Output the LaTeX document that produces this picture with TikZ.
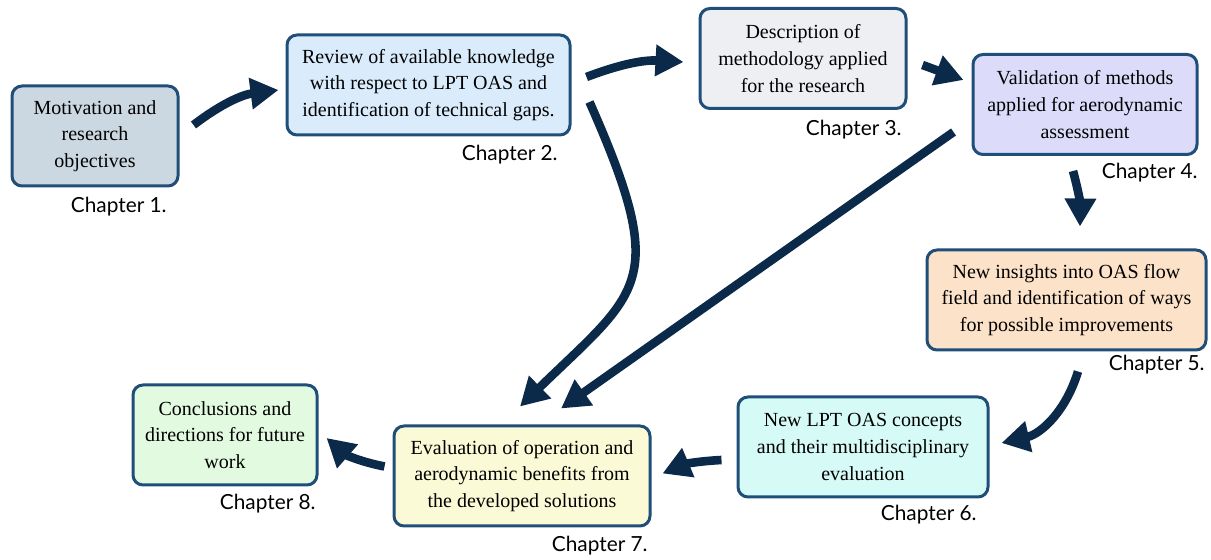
\documentclass[tikz,border=0pt]{standalone}
\usepackage{fontspec}
\setmainfont{Liberation Serif}
\newfontfamily\labelfont{Lato}
\usetikzlibrary{arrows.meta}

\definecolor{edgeblue}{RGB}{31,78,121}
\definecolor{arrowblue}{RGB}{11,42,74}
\definecolor{fillone}{RGB}{204,216,225}
\definecolor{filltwo}{RGB}{218,236,252}
\definecolor{fillthree}{RGB}{237,239,242}
\definecolor{fillfour}{RGB}{220,220,250}
\definecolor{fillfive}{RGB}{252,226,200}
\definecolor{fillsix}{RGB}{214,250,246}
\definecolor{fillseven}{RGB}{250,250,214}
\definecolor{filleight}{RGB}{226,250,224}

\tikzset{
    chapbox/.style={draw=edgeblue, line width=1.5pt, rounded corners=5pt, align=center,
        inner sep=2pt, minimum height=50pt, font=\fontsize{10}{13.3}\selectfont},
    chaplabel/.style={anchor=east, inner sep=0pt, font=\labelfont\fontsize{10.4}{12}\selectfont},
    flowarrow/.style={-{Triangle[length=14pt, width=15pt]}, line width=4.3pt, draw=arrowblue}
}

\begin{document}
\begin{tikzpicture}
        [x=0.5pt, y=-0.5pt]

        \useasboundingbox (0,0) rectangle (1211,560);

        \node[chapbox, fill=fillone, minimum width=83pt] (ch-1) at (95,136)
            {Motivation and\\research\\objectives};
        \node[chapbox, fill=filltwo, minimum width=141.5pt] (ch-2) at (428.5,85)
            {Review of available knowledge\\with respect to LPT OAS and\\identification of technical gaps.};
        \node[chapbox, fill=fillthree, minimum width=103pt] (ch-3) at (803,58.5)
            {Description of\\methodology applied\\for the research};
        \node[chapbox, fill=fillfour, minimum width=112pt] (ch-4) at (1085,104.5)
            {Validation of methods\\applied for aerodynamic\\assessment};
        \node[chapbox, fill=fillfive, minimum width=139.5pt] (ch-5) at (1066.5,300)
            {New insights into OAS flow\\field and identification of ways\\for possible improvements};
        \node[chapbox, fill=fillsix, minimum width=125pt] (ch-6) at (863,447)
            {New LPT OAS concepts\\and their multidisciplinary\\evaluation};
        \node[chapbox, fill=fillseven, minimum width=128pt] (ch-7) at (522,476)
            {Evaluation of operation and\\aerodynamic benefits from\\the developed solutions};
        \node[chapbox, fill=filleight, minimum width=92pt] (ch-8) at (225,435)
            {Conclusions and\\directions for future\\work};

        \foreach \n/\x/\y in {1/167/207, 2/558/155, 3/902/130, 4/1198/173,
                              5/1205/365, 6/977/515, 7/648/546, 8/316/504}
        \node[chaplabel] (lab-\n) at (\x,\y) {Chapter \n.};

        % reading order
        \draw[flowarrow] ([shift={(14,-11)}]ch-1.east) to[bend left=15] ([shift={(-7,5)}]ch-2.west);
        \draw[flowarrow] ([shift={(15,-8)}]ch-2.east) to[bend left=12] ([shift={(-15,3.5)}]ch-3.west);
        \draw[flowarrow] ([shift={(15,6.5)}]ch-3.east) -- ([shift={(-8,-24.5)}]ch-4.west);
        \draw[flowarrow] ([shift={(18,17)}]ch-2.east) .. controls (670,284) and (640,290) .. ([shift={(-2,-18)}]ch-7.north);
        \draw[flowarrow] ([shift={(-18,27.5)}]ch-4.west) -- ([shift={(39,-16)}]ch-7.north);
        \draw[flowarrow] ([shift={(-12,15)}]ch-4.south) to[bend left=8] ([shift={(13.5,-22)}]ch-5.north);
        \draw[flowarrow] ([shift={(11.5,20)}]ch-5.south) to[bend left=30] ([shift={(12,-4)}]ch-6.east);
        \draw[flowarrow] ([shift={(-15,13)}]ch-6.west) to[bend right=10] ([shift={(11,-2.5)}]ch-7.east);
        \draw[flowarrow] ([shift={(-8,-9.5)}]ch-7.west) to[bend left=15] ([shift={(8,3)}]ch-8.east);

    \end{tikzpicture}
\end{document}
